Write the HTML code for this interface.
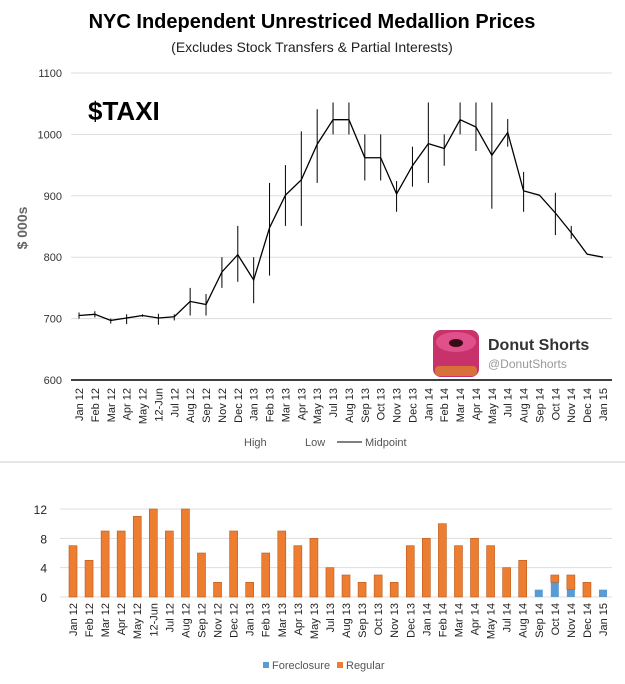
<!DOCTYPE html>
<html><head><meta charset="utf-8"><style>
body{margin:0;background:#fff;}
svg{display:block;font-family:"Liberation Sans",sans-serif;}
</style></head><body>
<svg id="c" width="625" height="684" viewBox="0 0 625 684">
<text x="312" y="28" text-anchor="middle" font-size="20" font-weight="bold" fill="#000">NYC Independent Unrestriced Medallion Prices</text>
<text x="312" y="52" text-anchor="middle" font-size="14" fill="#222">(Excludes Stock Transfers &amp; Partial Interests)</text>
<text x="88" y="120" font-size="26" font-weight="bold" fill="#000">$TAXI</text>
<text x="27" y="228" font-size="14" font-weight="bold" fill="#666" transform="rotate(-90 27 228)" text-anchor="middle">$ 000s</text>
<g id="topChart"></g>
<g id="botChart"></g>
<g>
<rect x="433" y="330" width="46" height="47" rx="8" fill="#c8326a"/>
<ellipse cx="456" cy="342" rx="20" ry="10" fill="#e0508a"/>
<ellipse cx="456" cy="343" rx="7" ry="4" fill="#3a0a18"/>
<rect x="435" y="366" width="42" height="10" rx="4" fill="#d8703a"/>
</g>
<text x="488" y="350" font-size="16" font-weight="bold" fill="#333">Donut Shorts</text>
<text x="488" y="368" font-size="12" fill="#999">@DonutShorts</text>
<line x1="0" y1="462" x2="625" y2="462" stroke="#ddd" stroke-width="1.5"/>
<g>
<text x="244" y="446" font-size="11" fill="#555">High</text>
<text x="305" y="446" font-size="11" fill="#555">Low</text>
<line x1="337" y1="442" x2="362" y2="442" stroke="#000"/>
<text x="365" y="446" font-size="11" fill="#555">Midpoint</text>
</g>
<g>
<rect x="263" y="662" width="6" height="6" fill="#5b9bd5"/>
<text x="272" y="669" font-size="11" fill="#555">Foreclosure</text>
<rect x="337" y="662" width="6" height="6" fill="#ed7d31"/>
<text x="346" y="669" font-size="11" fill="#555">Regular</text>
</g>
</svg>
<script>
const categories=["Jan 12","Feb 12","Mar 12","Apr 12","May 12","12-Jun","Jul 12","Aug 12","Sep 12","Nov 12","Dec 12","Jan 13","Feb 13","Mar 13","Apr 13","May 13","Jul 13","Aug 13","Sep 13","Oct 13","Nov 13","Dec 13","Jan 14","Feb 14","Mar 14","Apr 14","May 14","Jul 14","Aug 14","Sep 14","Oct 14","Nov 14","Dec 14","Jan 15"];
const midpoint=[705,707,697,701,705,701,703,728,723,776,804,763,848,901,926,984,1024,1024,962,962,903,949,985,977,1024,1012,966,1003,908,901,872,840,805,800];
const high=[710,712,700,707,707,708,707,750,740,800,851,800,921,950,1005,1041,1052,1052,1000,1000,924,980,1052,1000,1052,1052,1052,1025,939,901,905,851,805,800];
const low=[700,702,692,691,703,690,697,705,705,750,760,725,770,851,851,921,1000,1000,925,925,874,915,921,949,1000,973,879,980,874,901,836,830,805,800];
const topTicks=[600,700,800,900,1000,1100];
const foreclosure=[0,0,0,0,0,0,0,0,0,0,0,0,0,0,0,0,0,0,0,0,0,0,0,0,0,0,0,0,0,1,2,1,0,1];
const regular=[7,5,9,9,11,12,9,12,6,2,9,2,6,9,7,8,4,3,2,3,2,7,8,10,7,8,7,4,5,0,1,2,2,0];
const botTicks=[0,4,8,12];
(function(){
const NS="http://www.w3.org/2000/svg";
function mk(p,t,a){const e=document.createElementNS(NS,t);for(const k in a)e.setAttribute(k,a[k]);p.appendChild(e);return e;}
const tg=document.getElementById('topChart'),bg=document.getElementById('botChart');
const n=categories.length;
const tx=i=>79+i*(603-79)/(n-1);
const ty=v=>380-(v-600)*(307/500);
topTicks.forEach(t=>{
 const l=mk(tg,'line',{x1:71,x2:612,y1:ty(t),y2:ty(t),stroke:t===600?'#000':'#ddd','stroke-width':t===600?1.5:1});
 
 
 const tt=mk(tg,'text',{x:62,y:ty(t)+4,'text-anchor':'end','font-size':11,fill:'#333'});tt.textContent=t;
 
 
});
categories.forEach((c,i)=>{
 const x=tx(i);
 if(high[i]!==low[i]){const b=mk(tg,'line',{x1:x,x2:x,y1:ty(high[i]),y2:ty(low[i]),stroke:'#000','stroke-width':1});
 
 }
 const t=mk(tg,'text',{x:0,y:0,'font-size':11,fill:'#222','text-anchor':'end',transform:`translate(${x+4},388) rotate(-90)`});t.textContent=c;
 
 
});
const pl=mk(tg,'polyline',{points:midpoint.map((v,i)=>tx(i)+','+ty(v)).join(' '),fill:'none',stroke:'#000','stroke-width':1.3});


const bx=i=>73+i*(603-73)/(n-1);
const by=v=>597-v*(88/12);
botTicks.forEach(t=>{
 const l=mk(bg,'line',{x1:60,x2:612,y1:by(t),y2:by(t),stroke:'#ddd'});
 
 
 const tt=mk(bg,'text',{x:47,y:by(t)+5,'text-anchor':'end','font-size':12,fill:'#222'});tt.textContent=t;
 
 
});
categories.forEach((c,i)=>{
 const x=bx(i);
 if(foreclosure[i]>0){const r=mk(bg,'rect',{x:x-4,y:by(foreclosure[i]),width:8,height:by(0)-by(foreclosure[i]),fill:'#5b9bd5'});
 
 }
 if(regular[i]>0){const r=mk(bg,'rect',{x:x-4,y:by(foreclosure[i]+regular[i]),width:8,height:by(foreclosure[i])-by(foreclosure[i]+regular[i]),fill:'#ed7d31',stroke:'#b85a1c','stroke-width':0.6});
 
 }
 const t=mk(bg,'text',{x:0,y:0,'font-size':11,fill:'#222','text-anchor':'end',transform:`translate(${x+4},603) rotate(-90)`});t.textContent=c;
 
 
});
})();
</script>
</body></html>
